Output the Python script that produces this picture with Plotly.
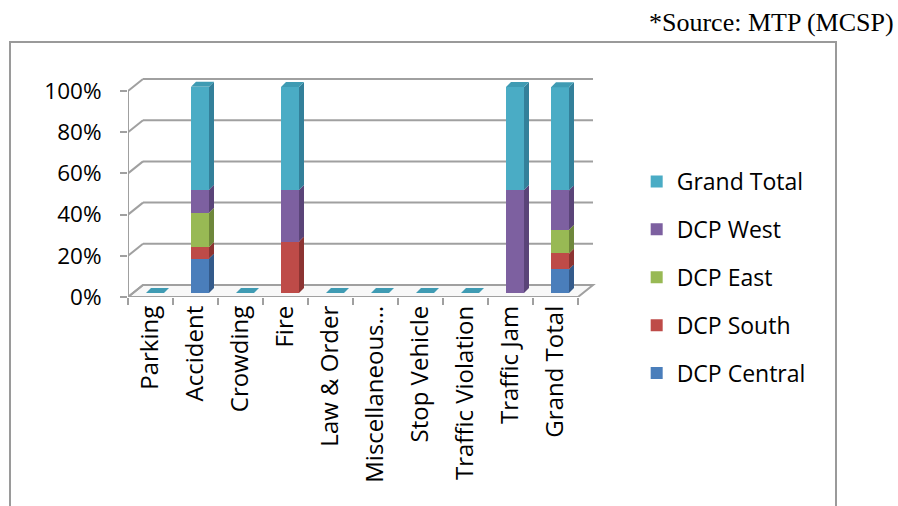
import numpy as np
import plotly.graph_objects as go

# ---- data (share of complaints, %) ----
categories = ["Parking", "Accident", "Crowding", "Fire", "Law & Order",
              "Miscellaneous…", "Stop Vehicle", "Traffic Violation",
              "Traffic Jam", "Grand Total"]
dcp_central = [0, 16.7, 0, 0, 0, 0, 0, 0, 0, 11.5]
dcp_south = [0, 5.6, 0, 25.0, 0, 0, 0, 0, 0, 7.7]
dcp_east = [0, 16.7, 0, 0, 0, 0, 0, 0, 0, 11.5]
dcp_west = [0, 11.1, 0, 25.0, 0, 0, 0, 0, 50.0, 19.2]
grand_total = [0, 50.0, 0, 50.0, 0, 0, 0, 0, 50.0, 50.0]
series_names = ["DCP Central", "DCP South", "DCP East", "DCP West", "Grand Total"]
y_ticks = [0, 20, 40, 60, 80, 100]
y_tick_text = ["0%", "20%", "40%", "60%", "80%", "100%"]
source_note = "*Source: MTP (MCSP)"

series_values = [dcp_central, dcp_south, dcp_east, dcp_west, grand_total]
front_colors = ["#4a7ebb", "#be4b48", "#98b954", "#7d60a0", "#4aacc5"]
side_colors = ["#335a8a", "#8c3432", "#6e873b", "#5a4478", "#33809a"]
top_colors = ["#3f6fa8", "#a8403d", "#86a548", "#6c5290", "#3f9bb3"]

# ---- page geometry (pixels) ----
W, H = 898, 506
PL, PR, PT, PB = 128, 598, 70, 297      # plot area
PX_CAT = 45.0                            # px per category
PX_PCT = 2.06                            # px per percentage point
x_range = [-0.5, -0.5 + (PR - PL) / PX_CAT]
y_range = [0, (PB - PT) / PX_PCT]
bar_lift = 4 / PX_PCT                    # bars sit a little behind the front edge
y2_range = [y_range[0] - bar_lift, y_range[1] - bar_lift]

BAR_OFF, BAR_W = -0.1, 0.4               # front face, in category units
SIDE_DX, SIDE_DY = 5 / PX_CAT, 5 / PX_PCT
WALL_DX, WALL_DY = 15 / PX_CAT, 12 / PX_PCT
GRID = "#a0a0a0"


def px_to_paper_x(px):
    return (px - PL) / (PR - PL)


def px_to_paper_y(py):
    return (PB - py) / (PB - PT)


fig = go.Figure()

# stacked front faces; legend lists the top series first
n_series = len(series_names)
for i, (name, vals, col) in enumerate(zip(series_names, series_values, front_colors)):
    fig.add_trace(go.Bar(
        x=categories, y=vals, name=name, yaxis="y2",
        offset=BAR_OFF, width=BAR_W,
        marker=dict(color=col, line=dict(width=0)),
        legendgroup=name, legendrank=100 + (n_series - i),
    ))

shapes = []

# walls, floor and gridlines
left_x = x_range[0]
right_x = len(categories) - 0.5
shapes.append(dict(type="path", xref="x", yref="y", layer="below",
                   path=f"M{left_x},0 L{right_x},0 L{right_x + WALL_DX},{WALL_DY} "
                        f"L{left_x + WALL_DX},{WALL_DY} Z",
                   fillcolor="#f8f8f8", line=dict(color=GRID, width=2)))
for v in y_ticks:
    shapes.append(dict(type="line", xref="x", yref="y", layer="below",
                       x0=left_x, y0=v, x1=left_x + WALL_DX, y1=v + WALL_DY,
                       line=dict(color=GRID, width=2)))
    shapes.append(dict(type="line", xref="x", yref="y", layer="below",
                       x0=left_x + WALL_DX, y0=v + WALL_DY,
                       x1=right_x + WALL_DX, y1=v + WALL_DY,
                       line=dict(color=GRID, width=2)))
shapes.append(dict(type="line", xref="x", yref="y", layer="below",
                   x0=left_x, y0=0, x1=left_x, y1=y_ticks[-1],
                   line=dict(color=GRID, width=2)))

# side faces of each stacked segment and the top face of each column
vals_arr = np.array(series_values, dtype=float)
cum = np.cumsum(vals_arr, axis=0)
for j in range(len(categories)):
    xl = j + BAR_OFF
    xr = xl + BAR_W
    for i in range(n_series):
        v = vals_arr[i, j]
        if v <= 0:
            continue
        b = cum[i, j] - v
        t = cum[i, j]
        shapes.append(dict(type="path", xref="x", yref="y2", layer="above",
                           path=f"M{xr},{b} L{xr + SIDE_DX},{b + SIDE_DY} "
                                f"L{xr + SIDE_DX},{t + SIDE_DY} L{xr},{t} Z",
                           fillcolor=side_colors[i], line=dict(width=0)))
    nz = [i for i in range(n_series) if vals_arr[i, j] > 0]
    top_i = nz[-1] if nz else n_series - 1
    t = cum[-1, j]
    shapes.append(dict(type="path", xref="x", yref="y2", layer="above",
                       path=f"M{xl},{t} L{xr},{t} L{xr + SIDE_DX},{t + SIDE_DY} "
                            f"L{xl + SIDE_DX},{t + SIDE_DY} Z",
                       fillcolor=top_colors[top_i], line=dict(width=0)))

# outer chart frame
shapes.append(dict(type="rect", xref="paper", yref="paper",
                   x0=px_to_paper_x(10), x1=px_to_paper_x(836),
                   y0=px_to_paper_y(540), y1=px_to_paper_y(42),
                   line=dict(color="#9a9a9a", width=2), fillcolor="rgba(0,0,0,0)",
                   layer="below"))

FONT = "Open Sans"
fig.update_layout(
    width=W, height=H,
    margin=dict(l=PL, r=W - PR, t=PT, b=H - PB, pad=0),
    paper_bgcolor="white", plot_bgcolor="rgba(0,0,0,0)",
    barmode="stack", bargap=0,
    font=dict(family=FONT, size=22, color="black"),
    shapes=shapes,
    xaxis=dict(type="category", range=x_range, tickson="boundaries",
               ticks="outside", ticklen=7, tickwidth=2, tickcolor=GRID,
               tickangle=-90, ticklabelstandoff=3,
               tickfont=dict(family=FONT, size=24, color="black"),
               showgrid=False, zeroline=False, showline=False, fixedrange=True),
    yaxis=dict(range=y_range, tickvals=y_ticks, ticktext=y_tick_text,
               ticks="outside", ticklen=7, tickwidth=2, tickcolor=GRID,
               ticklabelstandoff=14,
               tickfont=dict(family=FONT, size=22.5, color="black"),
               showgrid=False, zeroline=False, showline=False, fixedrange=True),
    yaxis2=dict(range=y2_range, overlaying="y", visible=False, fixedrange=True),
    legend=dict(xref="container", yref="container", x=0.709, y=1 - 160 / H,
                xanchor="left", yanchor="top", traceorder="grouped",
                tracegroupgap=15, font=dict(family=FONT, size=23, color="black"),
                bgcolor="rgba(0,0,0,0)"),
    annotations=[dict(text=source_note, xref="paper", yref="paper",
                      x=px_to_paper_x(896), y=px_to_paper_y(23),
                      xanchor="right", yanchor="middle", showarrow=False,
                      font=dict(family="Liberation Serif", size=26, color="black"))],
)

fig.write_html("out.html")
